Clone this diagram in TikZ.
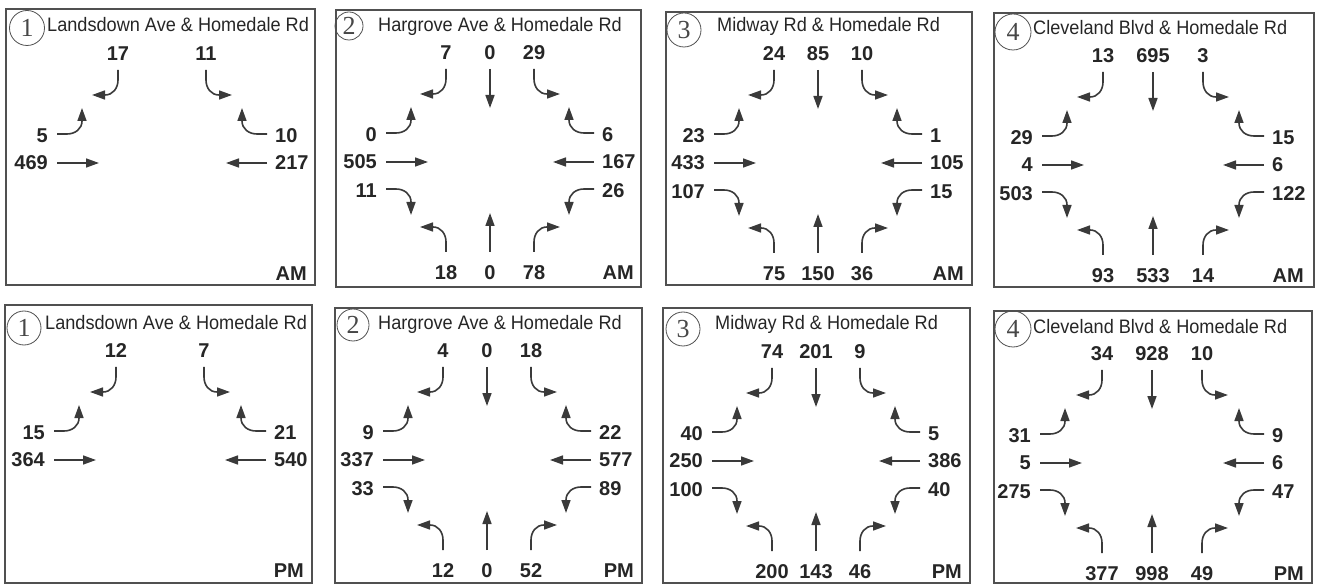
\documentclass[tikz,border=0pt]{standalone}
\usepackage{fontspec}
\usetikzlibrary{arrows.meta}
\newfontfamily\arialf{Liberation Sans}
\newfontfamily\arialn[FakeStretch=0.93]{Liberation Sans}
\newfontfamily\serf{Liberation Serif}
\definecolor{txt}{HTML}{262626}
\definecolor{arrc}{HTML}{3A3A3A}
\definecolor{bord}{HTML}{505050}
\tikzset{
  num/.style={font=\arialf\bfseries\fontsize{20}{24}\selectfont, text=txt, inner sep=0pt},
  ttl/.style={font=\arialn\fontsize{19.5}{23}\selectfont, text=txt, anchor=base west, inner sep=0pt},
  cnum/.style={circle, draw=bord, line width=0.8pt, inner sep=0pt, font=\serf\fontsize{26}{30}\selectfont, text=txt!85},
  frame/.style={draw=bord, line width=1.2pt},
  arr/.style={draw=arrc, line width=1.6pt, -{Triangle[length=13pt,width=9pt]}},
}
% turning arrow: start (#1,#2), matrix #3..#6
\newcommand\turn[6]{\draw[arr,shift={(#1,#2)},cm={#3,#4,#5,#6,(0,0)}] (0,0) -- (0,-10) .. controls (0,-18) and (-5,-25) .. (-13,-25) -- (-26,-25);}
% movements (inside a panel scope)
\newcommand\mSL[1]{\node[num] (\pn-s1) at (-\dx,109) {#1}; \turn{-\dx}{93}{1}{0}{0}{1}}
\newcommand\mST[1]{\node[num] (\pn-s2) at (0,109) {#1}; \draw[arr] (0,93) -- (0,54);}
\newcommand\mSR[1]{\node[num] (\pn-s3) at (\dx,109) {#1}; \turn{\dx}{93}{-1}{0}{0}{1}}
\newcommand\mNL[1]{\node[num] (\pn-n1) at (-\dx,-111) {#1}; \turn{-\dx}{-90}{1}{0}{0}{-1}}
\newcommand\mNT[1]{\node[num] (\pn-n2) at (0,-111) {#1}; \draw[arr] (0,-90) -- (0,-51);}
\newcommand\mNR[1]{\node[num] (\pn-n3) at (\dx,-111) {#1}; \turn{\dx}{-90}{-1}{0}{0}{-1}}
\newcommand\mEU[1]{\node[num,anchor=east] (\pn-e1) at (-\ex-9,27) {#1}; \turn{-\ex}{29}{0}{-1}{-1}{0}}
\newcommand\mET[1]{\node[num,anchor=east] (\pn-e2) at (-\ex-9,0) {#1}; \draw[arr] (-\ex,0) -- (-\ex+42,0);}
\newcommand\mEL[1]{\node[num,anchor=east] (\pn-e3) at (-\ex-9,-29) {#1}; \turn{-\ex}{-27}{0}{1}{-1}{0}}
\newcommand\mWU[1]{\node[num,anchor=west] (\pn-w1) at (\ex+8,27) {#1}; \turn{\ex}{29}{0}{-1}{1}{0}}
\newcommand\mWT[1]{\node[num,anchor=west] (\pn-w2) at (\ex+8,0) {#1}; \draw[arr] (\ex,0) -- (\ex-41,0);}
\newcommand\mWL[1]{\node[num,anchor=west] (\pn-w3) at (\ex+8,-29) {#1}; \turn{\ex}{-27}{0}{1}{1}{0}}
\begin{document}
\begin{tikzpicture}[x=1pt,y=1pt]
\useasboundingbox (0,0) rectangle (1319,584);
% ---------- frames ----------
\draw[frame] (6,575) rectangle (315,299);
\draw[frame] (336,574) rectangle (641,297);
\draw[frame] (666,572) rectangle (972,299);
\draw[frame] (994,571) rectangle (1314,297);
\draw[frame] (5,279) rectangle (312,1);
\draw[frame] (335,276) rectangle (642,1);
\draw[frame] (663,276) rectangle (970,1);
\draw[frame] (994,273) rectangle (1312,1);
% ---------- circled numbers ----------
\node[cnum, minimum size=35pt] (a1-c) at (27,556) {1};
\node[cnum, minimum size=28pt] (a2-c) at (349,558) {2};
\node[cnum, minimum size=34pt] (a3-c) at (684,554) {3};
\node[cnum, minimum size=36pt] (a4-c) at (1013,552) {4};
\node[cnum, minimum size=34pt] (b1-c) at (24,256) {1};
\node[cnum, minimum size=32pt] (b2-c) at (353,259) {2};
\node[cnum, minimum size=34pt] (b3-c) at (683,255) {3};
\node[cnum, minimum size=36pt] (b4-c) at (1013,255) {4};
% ---------- titles ----------
\node[ttl] (a1-t) at (47,552) {Landsdown Ave \& Homedale Rd};
\node[ttl] (a2-t) at (378,552) {Hargrove Ave \& Homedale Rd};
\node[ttl] (a3-t) at (717,552) {Midway Rd \& Homedale Rd};
\node[ttl] (a4-t) at (1033,549) {Cleveland Blvd \& Homedale Rd};
\node[ttl] (b1-t) at (45,254) {Landsdown Ave \& Homedale Rd};
\node[ttl] (b2-t) at (378,254) {Hargrove Ave \& Homedale Rd};
\node[ttl] (b3-t) at (715,254) {Midway Rd \& Homedale Rd};
\node[ttl] (b4-t) at (1033,250) {Cleveland Blvd \& Homedale Rd};
% ---------- period labels ----------
\node[num,anchor=east] (a1-p) at (307,310) {AM};
\node[num,anchor=east] (a2-p) at (634,311) {AM};
\node[num,anchor=east] (a3-p) at (964,310) {AM};
\node[num,anchor=east] (a4-p) at (1304,308) {AM};
\node[num,anchor=east] (b1-p) at (304,13) {PM};
\node[num,anchor=east] (b2-p) at (634,13) {PM};
\node[num,anchor=east] (b3-p) at (962,12) {PM};
\node[num,anchor=east] (b4-p) at (1304,10) {PM};
% ---------- panel A1 ----------
\def\pn{a1}\def\dx{44}\def\ex{105}
\begin{scope}[shift={(162,421)}]
\mSL{17}\mSR{11}\mEU{5}\mET{469}\mWU{10}\mWT{217}
\end{scope}
% ---------- panel A2 ----------
\def\pn{a2}\def\dx{44}\def\ex{104}
\begin{scope}[shift={(490,422)}]
\mSL{7}\mST{0}\mSR{29}\mEU{0}\mET{505}\mEL{11}\mWU{6}\mWT{167}\mWL{26}\mNL{18}\mNT{0}\mNR{78}
\end{scope}
% ---------- panel A3 ----------
\def\pn{a3}\def\dx{44}\def\ex{104}
\begin{scope}[shift={(818,421)}]
\mSL{24}\mST{85}\mSR{10}\mEU{23}\mET{433}\mEL{107}\mWU{1}\mWT{105}\mWL{15}\mNL{75}\mNT{150}\mNR{36}
\end{scope}
% ---------- panel A4 ----------
\def\pn{a4}\def\dx{50}\def\ex{111}
\begin{scope}[shift={(1153,419)}]
\mSL{13}\mST{695}\mSR{3}\mEU{29}\mET{4}\mEL{503}\mWU{15}\mWT{6}\mWL{122}\mNL{93}\mNT{533}\mNR{14}
\end{scope}
% ---------- panel B1 ----------
\def\pn{b1}\def\dx{44}\def\ex{106}
\begin{scope}[shift={(160,124)}]
\mSL{12}\mSR{7}\mEU{15}\mET{364}\mWU{21}\mWT{540}
\end{scope}
% ---------- panel B2 ----------
\def\pn{b2}\def\dx{44}\def\ex{104}
\begin{scope}[shift={(487,124)}]
\mSL{4}\mST{0}\mSR{18}\mEU{9}\mET{337}\mEL{33}\mWU{22}\mWT{577}\mWL{89}\mNL{12}\mNT{0}\mNR{52}
\end{scope}
% ---------- panel B3 ----------
\def\pn{b3}\def\dx{44}\def\ex{104}
\begin{scope}[shift={(816,123)}]
\mSL{74}\mST{201}\mSR{9}\mEU{40}\mET{250}\mEL{100}\mWU{5}\mWT{386}\mWL{40}\mNL{200}\mNT{143}\mNR{46}
\end{scope}
% ---------- panel B4 ----------
\def\pn{b4}\def\dx{50}\def\ex{112}
\begin{scope}[shift={(1152,121)}]
\mSL{34}\mST{928}\mSR{10}\mEU{31}\mET{5}\mEL{275}\mWU{9}\mWT{6}\mWL{47}\mNL{377}\mNT{998}\mNR{49}
\end{scope}
\end{tikzpicture}
\end{document}
